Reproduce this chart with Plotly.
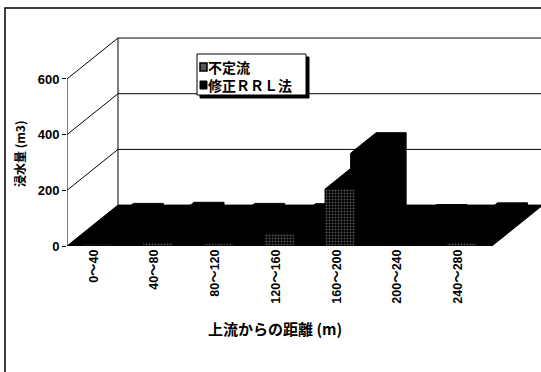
import plotly.graph_objects as go

# ---------------- data ----------------
categories = ["0～40", "40～80", "80～120", "120～160", "160～200", "200～240", "240～280"]
futeiryu = [5, 12, 8, 45, 205, 4, 12]        # 不定流 (front row)
rrl_mod = [6, 10, 6, 5, 260, 2, 8]           # 修正ＲＲＬ法 (back row)
y_ticks = [0, 200, 400, 600]
series_names = ["不定流", "修正ＲＲＬ法"]

# ---------------- geometry / style ----------------
DX, DY = 0.84, 147.0          # oblique depth offset (category units, value units)
HALF = 0.247                  # half bar width in category units
FRONT_D = (0.0, 0.5)
BACK_D = (0.5, 1.0)
YMAX = max(y_ticks)
NCAT = len(categories)

L, R, T, B = 67, 0, 30, 126
W, H = 541, 372
PW, PH = W - L - R, H - T - B
XR = PW / 60.7
YR = PH / 0.2784

FONT_NUM = "Liberation Sans, Noto Sans CJK JP, sans-serif"
FONT_JP = "Noto Sans CJK JP, Liberation Sans, sans-serif"


def P(x, y, d):
    return x + d * DX, y + d * DY


def box_outline(xc, h, d):
    x1, x2 = xc - HALF, xc + HALF
    pts = [P(x1, 0, d[0]), P(x1, h, d[0]), P(x1, h, d[1]), P(x2, h, d[1]),
           P(x2, 0, d[1]), P(x2, 0, d[0]), P(x1, 0, d[0])]
    return [p[0] for p in pts], [p[1] for p in pts]


def front_face(xc, h, d):
    x1, x2 = xc - HALF, xc + HALF
    pts = [P(x1, 0, d), P(x1, h, d), P(x2, h, d), P(x2, 0, d), P(x1, 0, d)]
    return [p[0] for p in pts], [p[1] for p in pts]


fig = go.Figure()

# walls: side-wall diagonals + back-wall gridlines
wx, wy = [], []
for v in y_ticks[1:]:
    for (a, b) in [(P(0, v, 0), P(0, v, 1)), (P(0, v, 1), P(NCAT + 2, v, 1))]:
        wx += [a[0], b[0], None]
        wy += [a[1], b[1], None]
a, b = P(0, 0, 1), P(0, YMAX, 1)
wx += [a[0], b[0], None]; wy += [a[1], b[1], None]
a, b = P(0, 0, 0), P(0, YMAX, 0)
wx += [a[0], b[0], None]; wy += [a[1], b[1], None]
fig.add_trace(go.Scatter(x=wx, y=wy, mode="lines", line=dict(color="black", width=1),
                         hoverinfo="skip", showlegend=False))

# floor
fl = [P(0, 0, 0), P(NCAT, 0, 0), P(NCAT, 0, 1), P(0, 0, 1), P(0, 0, 0)]
fig.add_trace(go.Scatter(x=[p[0] for p in fl], y=[p[1] for p in fl], mode="lines",
                         fill="toself", fillcolor="black", line=dict(color="black", width=1),
                         hoverinfo="skip", showlegend=False))

# back row: 修正RRL法
bx, by = [], []
for i, v in enumerate(rrl_mod):
    xs, ys = box_outline(i + 0.5, v, BACK_D)
    bx += xs + [None]; by += ys + [None]
fig.add_trace(go.Scatter(x=bx, y=by, mode="lines", fill="toself", fillcolor="black",
                         line=dict(color="black", width=1), name=series_names[1],
                         showlegend=False))

# front row: 不定流 (silhouette then patterned front face)
fx, fy, gx, gy = [], [], [], []
for i, v in enumerate(futeiryu):
    xs, ys = box_outline(i + 0.5, v, FRONT_D)
    fx += xs + [None]; fy += ys + [None]
    xs, ys = front_face(i + 0.5, v, FRONT_D[0])
    gx += xs + [None]; gy += ys + [None]
fig.add_trace(go.Scatter(x=fx, y=fy, mode="lines", fill="toself", fillcolor="black",
                         line=dict(color="black", width=1), showlegend=False,
                         hoverinfo="skip"))
fig.add_trace(go.Scatter(x=gx, y=gy, mode="lines", fill="toself", fillcolor="black",
                         fillpattern=dict(shape=".", bgcolor="black", fgcolor="#a8a8a8",
                                          size=3, solidity=0.35),
                         line=dict(color="black", width=0.5), name=series_names[0],
                         showlegend=False))


def xp(px):
    return (px - L) / PW


def yp(py):
    return (H - B - py) / PH


shapes = [
    # chart frame
    dict(type="rect", xref="paper", yref="paper", x0=xp(5), x1=xp(700), y0=yp(500), y1=yp(8),
         line=dict(color="black", width=1.5), fillcolor="rgba(0,0,0,0)", layer="above"),
    # legend shadow + box
    dict(type="rect", xref="paper", yref="paper", x0=xp(200), x1=xp(309), y0=yp(98), y1=yp(57),
         line=dict(color="black", width=1), fillcolor="black", layer="above"),
    dict(type="rect", xref="paper", yref="paper", x0=xp(197), x1=xp(306), y0=yp(95), y1=yp(54),
         line=dict(color="black", width=1), fillcolor="white", layer="above"),
    # legend swatches
    dict(type="rect", xref="paper", yref="paper", x0=xp(200), x1=xp(207), y0=yp(71), y1=yp(63),
         line=dict(color="black", width=1.5), fillcolor="#555555", layer="above"),
    dict(type="rect", xref="paper", yref="paper", x0=xp(200), x1=xp(207), y0=yp(89), y1=yp(81),
         line=dict(color="black", width=1), fillcolor="black", layer="above"),
]

annotations = [
    dict(text=series_names[0] + "<br>" + series_names[1], xref="paper", yref="paper",
         x=xp(207), y=yp(76), xanchor="left", yanchor="middle", align="left",
         showarrow=False, borderpad=0,
         font=dict(family=FONT_JP, size=14, color="black", weight="bold")),
    dict(text="浸水量 (m3)", xref="paper", yref="paper", x=xp(19), y=yp(154),
         xanchor="center", yanchor="middle", textangle=-90, showarrow=False,
         font=dict(family=FONT_JP, size=12, color="black", weight="bold")),
    dict(text="上流からの距離 (m)", xref="paper", yref="paper", x=xp(275), y=yp(328),
         xanchor="center", yanchor="middle", showarrow=False,
         font=dict(family=FONT_JP, size=15, color="black", weight="bold")),
]

fig.update_layout(
    width=W, height=H,
    margin=dict(l=L, r=R, t=T, b=B, autoexpand=False),
    paper_bgcolor="white", plot_bgcolor="white",
    showlegend=False,
    shapes=shapes, annotations=annotations,
    xaxis=dict(range=[0, XR], tickvals=[i + 0.5 - 0.06 for i in range(NCAT)],
               ticktext=categories, tickangle=-90, showgrid=False, zeroline=False,
               showline=False, ticks="", fixedrange=True,
               tickfont=dict(family=FONT_NUM, size=12.5, color="black", weight="bold")),
    yaxis=dict(range=[0, YR], tickvals=y_ticks, ticks="outside", ticklen=4,
               tickcolor="black", tickwidth=1, showgrid=False, zeroline=False,
               showline=False, fixedrange=True,
               tickfont=dict(family=FONT_NUM, size=13, color="black", weight="bold")),
)

fig.write_html("out.html")
